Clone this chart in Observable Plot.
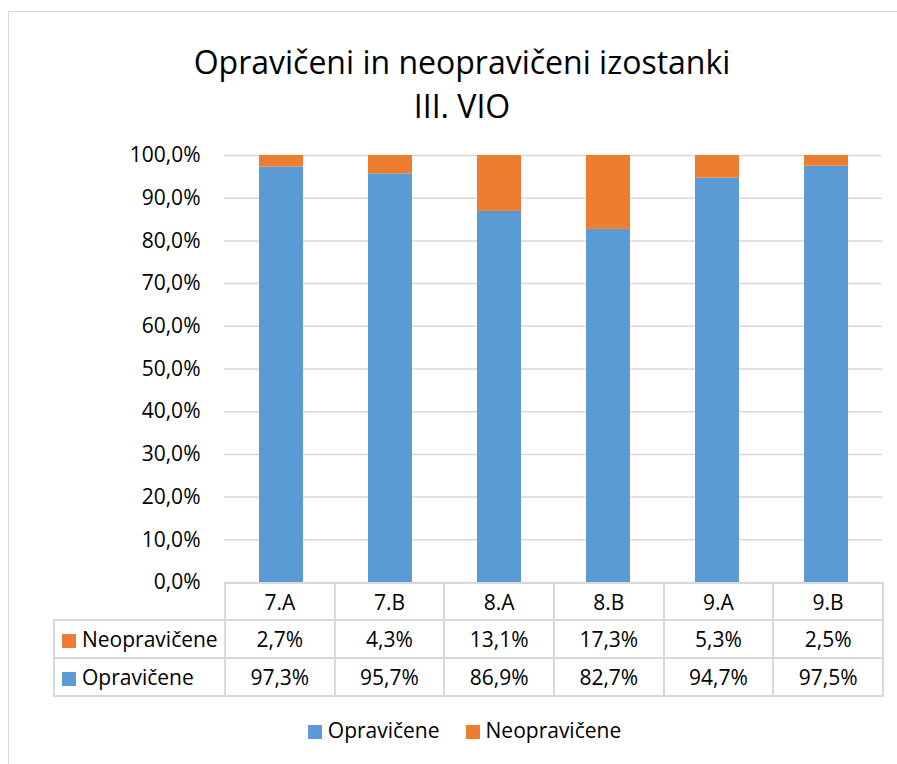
<!DOCTYPE html>
<html>
<head>
<meta charset="utf-8">
<script src="https://cdn.jsdelivr.net/npm/d3@7"></script>
<script src="https://cdn.jsdelivr.net/npm/@observablehq/plot@0.6"></script>
<style>
  html, body { margin: 0; padding: 0; background: #fff; }
  #wrap { position: relative; width: 897px; height: 764px; overflow: hidden; font-family: "Open Sans", sans-serif; color: #000; }
  #frame { position: absolute; left: 8px; top: 11px; width: 960px; height: 820px; border: 1.5px solid #d9d9d9; box-sizing: border-box; }
  #title { position: absolute; left: 0; width: 924px; top: 40px; text-align: center; font-size: 32px; line-height: 44px; }
  #chart { position: absolute; left: 0; top: 140px; }
  #tbl { position: absolute; left: 53px; top: 582px; border-collapse: collapse; font-size: 21px; }
  #tbl td { border: 2px solid #d9d9d9; text-align: center; padding: 0; height: 36px; box-sizing: border-box; }
  #tbl td.blank { border: none; }
  #tbl td.lab { text-align: left; padding-left: 7px; white-space: nowrap; }
  .key { display: inline-block; width: 14px; height: 14px; margin-right: 6px; vertical-align: -1px; }
  #legend { position: absolute; top: 716px; left: 0; width: 929px; text-align: center; font-size: 21px; }
  #legend span.item { margin: 0 13px; }
</style>
</head>
<body>
<div id="wrap">
  <div id="frame"></div>
  <div id="title"></div>
  <div id="chart"></div>
  <table id="tbl"></table>
  <div id="legend"></div>
</div>
<script>
const titleLines = ["Opravičeni in neopravičeni izostanki", "III. VIO"];
const classes = ["7.A", "7.B", "8.A", "8.B", "9.A", "9.B"];
const seriesNames = ["Opravičene", "Neopravičene"];
const seriesColors = ["#5b9bd5", "#ed7d31"];
const opravicene = [0.973, 0.957, 0.869, 0.827, 0.947, 0.975];
const neopravicene = [0.027, 0.043, 0.131, 0.173, 0.053, 0.025];
const yTicks = [0, 0.1, 0.2, 0.3, 0.4, 0.5, 0.6, 0.7, 0.8, 0.9, 1.0];

const fmtPct = d => (d * 100).toFixed(1).replace(".", ",") + "%";

document.getElementById("title").innerHTML = titleLines.map(t => `<div>${t}</div>`).join("");

const data = [];
classes.forEach((c, i) => data.push({cls: c, series: seriesNames[0], value: opravicene[i]}));
classes.forEach((c, i) => data.push({cls: c, series: seriesNames[1], value: neopravicene[i]}));

const plot = Plot.plot({
  width: 897,
  height: 460,
  marginLeft: 224,
  marginRight: 15,
  marginTop: 15,
  marginBottom: 18,
  style: {fontFamily: "Open Sans, sans-serif", fontSize: "21px", color: "#000", background: "transparent"},
  x: {domain: classes, paddingInner: 0.6, paddingOuter: 0.3, axis: null},
  y: {domain: [0, 1], ticks: yTicks, tickFormat: fmtPct, tickSize: 0, tickPadding: 24, label: null},
  color: {domain: seriesNames, range: seriesColors},
  marks: [
    Plot.ruleY(yTicks, {stroke: "#d9d9d9", strokeWidth: 1.5}),
    Plot.barY(data, {x: "cls", y: "value", fill: "series", order: seriesNames})
  ]
});
document.getElementById("chart").appendChild(plot);

// data table
const colW = (897 - 15 - 224) / classes.length;
let html = `<tr><td class="blank" style="width:171px;height:37px"></td>` +
  classes.map(c => `<td style="width:${colW}px;height:37px">${c}</td>`).join("") + `</tr>`;
const rows = [[seriesNames[1], seriesColors[1], neopravicene], [seriesNames[0], seriesColors[0], opravicene]];
rows.forEach(([name, col, vals]) => {
  html += `<tr><td class="lab" style="height:38px"><span class="key" style="background:${col}"></span>${name}</td>` +
    vals.map(v => `<td style="height:38px">${fmtPct(v)}</td>`).join("") + `</tr>`;
});
document.getElementById("tbl").innerHTML = html;

// legend
document.getElementById("legend").innerHTML = seriesNames.map((s, i) =>
  `<span class="item"><span class="key" style="background:${seriesColors[i]}"></span>${s}</span>`).join("");
</script>
</body>
</html>
